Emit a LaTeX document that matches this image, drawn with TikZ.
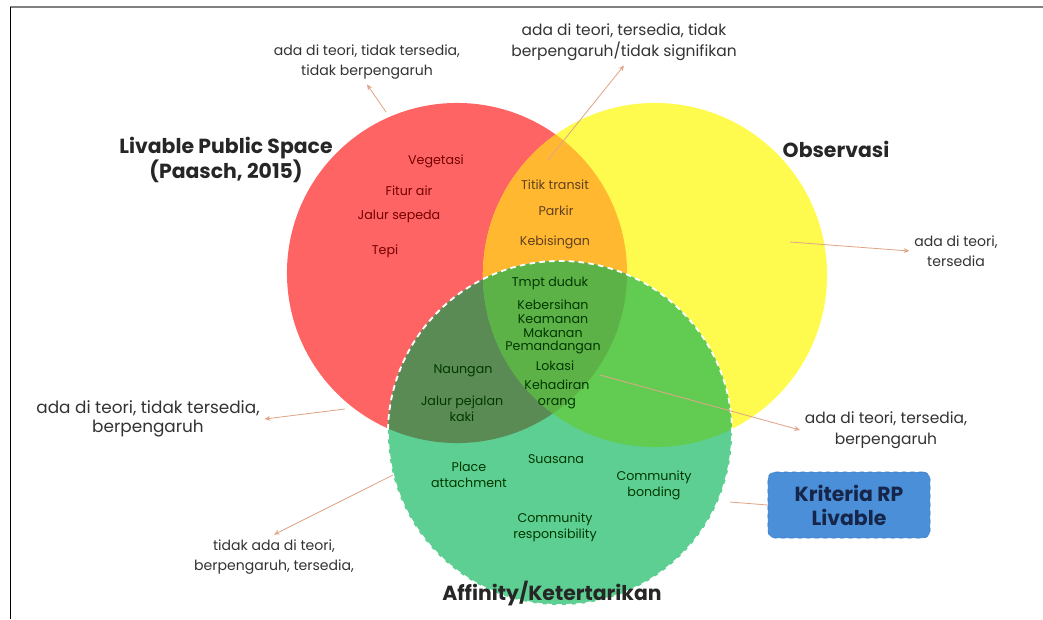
\documentclass[tikz,border=0pt]{standalone}
\usepackage{fontspec}
\setmainfont{Poppins}
\usetikzlibrary{arrows.meta}

\definecolor{redset}{HTML}{FF6464}
\definecolor{yellowset}{HTML}{FFFB4E}
\definecolor{orangeset}{HTML}{FFB830}
\definecolor{greenset}{HTML}{5DCF92}
\definecolor{greenyel}{HTML}{62CC52}
\definecolor{greenred}{HTML}{5A8B55}
\definecolor{greenall}{HTML}{5DB247}
\definecolor{boxblue}{HTML}{4A8FD8}
\definecolor{boxedge}{HTML}{3A78C4}
\definecolor{navy}{HTML}{16264A}
\definecolor{pointer}{HTML}{E0A688}

\tikzset{
  title/.style={font=\fontsize{14.5}{17.5}\selectfont\bfseries, text=black!85, align=center},
  note/.style={font=\fontsize{10}{14.5}\selectfont, text=black!80, align=center},
  item/.style={font=\fontsize{9}{11.5}\selectfont, align=center, inner sep=1pt},
  reditem/.style={item, text=red!45!black},
  orgitem/.style={item, text=brown!50!black},
  grnitem/.style={item, text=green!22!black},
  ptr/.style={draw=pointer, line width=0.6pt, -{Stealth[length=4pt,width=3.5pt]}}
}

\begin{document}
\begin{tikzpicture}[x=0.025cm,y=-0.025cm]
\useasboundingbox (0,0) rectangle (1043,619);

% frame
\draw[gray, line width=2pt] (10,7) -- (1043,7);
\draw[black, line width=0.9pt] (10.5,7) -- (10.5,619);

% centres of the three sets
\coordinate (cR) at (457,273);
\coordinate (cY) at (655,275);
\coordinate (cG) at (560,433);

% the sets and their overlaps
\fill[redset] (cR) circle[radius=4.25cm];
\fill[yellowset] (cY) circle[radius=4.3cm];
\begin{scope}
  \clip (cR) circle[radius=4.25cm];
  \fill[orangeset] (cY) circle[radius=4.3cm];
\end{scope}
\fill[greenset] (cG) circle[radius=4.3cm];
\begin{scope}
  \clip (cG) circle[radius=4.3cm];
  \fill[greenred] (cR) circle[radius=4.25cm];
  \fill[greenyel] (cY) circle[radius=4.3cm];
  \clip (cR) circle[radius=4.25cm];
  \fill[greenall] (cY) circle[radius=4.3cm];
\end{scope}
\draw[white, dashed, line width=1.3pt, dash pattern=on 4pt off 3pt] (cG) circle[radius=4.3cm];

% set names
\node[title] (lps) at (226,160) {Livable Public Space\\(Paasch, 2015)};
\node[title] (obs) at (836,149) {Observasi};
\node[title] (aff) at (552,594) {Affinity/Ketertarikan};

% items: theory only
\node[reditem] (veg) at (436,161) {Vegetasi};
\node[reditem] (fit) at (409,191) {Fitur air};
\node[reditem] (jsp) at (399,216) {Jalur sepeda};
\node[reditem] (tep) at (385,251) {Tepi};

% items: theory and observation
\node[orgitem] (tit) at (555,185) {Titik transit};
\node[orgitem] (par) at (556,211) {Parkir};
\node[orgitem] (keb) at (555,242) {Kebisingan};

% items: all three
\node[grnitem] (tmp) at (550,283) {Tmpt duduk};
\node[grnitem, font=\fontsize{9}{9.8}\selectfont] (ber) at (553,327) {Kebersihan\\Keamanan\\Makanan\\Pemandangan};
\node[grnitem] (lok) at (555,366) {Lokasi};
\node[grnitem] (keh) at (557,394) {Kehadiran\\orang};

% items: theory and affinity
\node[grnitem] (nau) at (463,371) {Naungan};
\node[grnitem] (jpk) at (462,409) {Jalur pejalan\\kaki};

% items: affinity only
\node[grnitem] (sua) at (556,459) {Suasana};
\node[grnitem] (pla) at (469,475) {Place\\attachment};
\node[grnitem] (cbo) at (654,485) {Community\\bonding};
\node[grnitem] (cre) at (555,527) {Community\\responsibility};

% notes
\node[note] (nA) at (367,62) {ada di teori, tidak tersedia,\\tidak berpengaruh};
\node[note, font=\fontsize{11}{15}\selectfont] (nB) at (624,42) {ada di teori, tersedia, tidak\\berpengaruh/tidak signifikan};
\node[note] (nC) at (956,251) {ada di teori,\\tersedia};
\node[note, font=\fontsize{12}{14}\selectfont] (nD) at (148,419) {ada di teori, tidak tersedia,\\berpengaruh};
\node[note, font=\fontsize{11}{14.5}\selectfont] (nE) at (886,430) {ada di teori, tersedia,\\berpengaruh};
\node[note] (nF) at (274,557) {tidak ada di teori,\\berpengaruh, tersedia,};

% legend box
\node[draw=boxedge, dashed, fill=boxblue, rounded corners=5pt, minimum width=4.05cm,
  minimum height=1.65cm, align=center, text=navy,
  font=\fontsize{14.5}{17}\selectfont\bfseries] (krit) at (849,505) {Kriteria RP\\Livable};

% pointers
\coordinate (pA) at (386,112);
\coordinate (pB) at (548,160);
\coordinate (pC) at (790,242);
\coordinate (pD) at (345,409);
\coordinate (pE) at (600,375);
\coordinate (pF) at (393,475);
\coordinate (pK) at (730,502);
\draw[ptr] (pA) -- (nA.south);
\draw[ptr] (pB) -- (nB.south);
\draw[ptr] (pC) -- (nC.west);
\draw[ptr] (pD) -- (nD.east);
\draw[ptr] (pE) -- (nE.west);
\draw[ptr] (pF) -- (nF.north);
\draw[pointer, line width=0.6pt] (pK) -- (krit.west);
\end{tikzpicture}
\end{document}
